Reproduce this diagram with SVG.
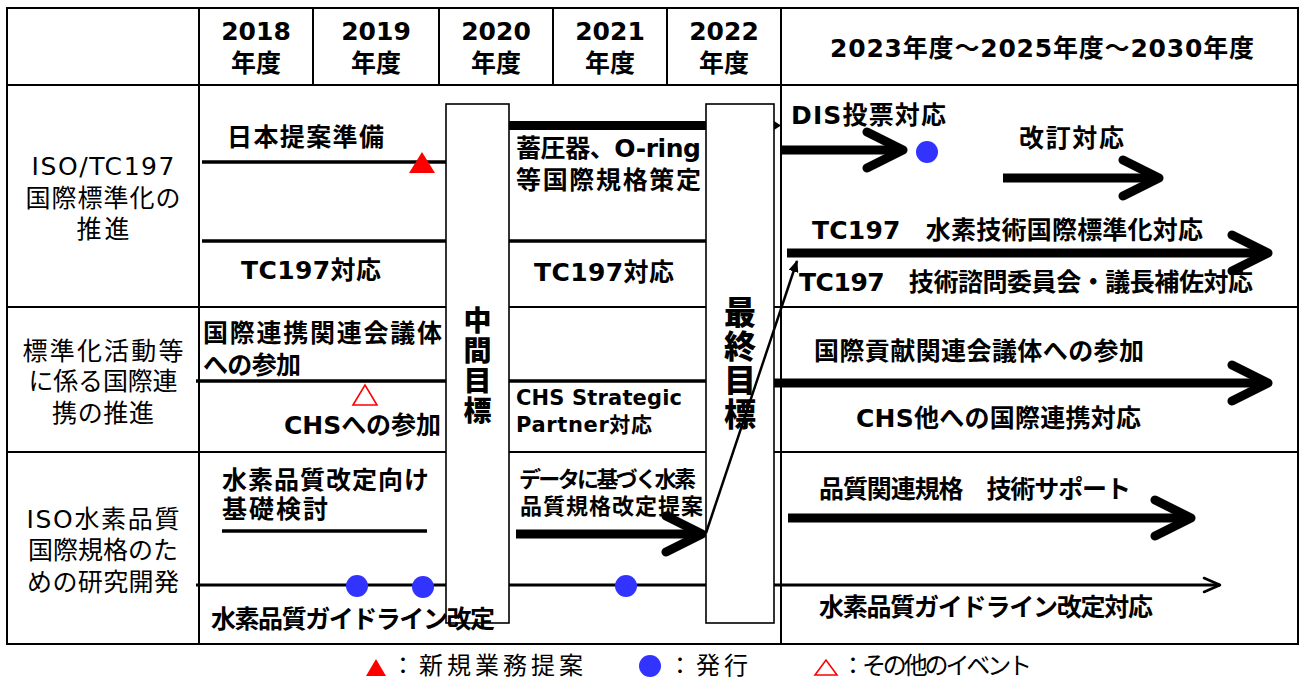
<svg xmlns="http://www.w3.org/2000/svg" width="1301" height="682" viewBox="0 0 1301 682">
<style>
.b{font-family:"DejaVu Sans","Noto Sans CJK JP",sans-serif;font-weight:bold;font-size:25px;fill:#000}
.s{font-size:21px}
.s22{font-size:22px}
.r{font-family:"DejaVu Sans","Noto Sans CJK JP",sans-serif;font-weight:normal;font-size:25px;fill:#000}
.lg{font-family:"Noto Sans CJK JP",sans-serif;font-weight:normal;font-size:24px;fill:#000}
.m{text-anchor:middle}
.grid{stroke:#000;stroke-width:2;fill:none}
.ln{stroke:#000;stroke-width:3.5;fill:none}
.thick{stroke:#000;stroke-width:9;fill:none}
.arrow{stroke:#000;stroke-width:9;fill:none;marker-end:url(#chev)}
.thin{stroke:#000;stroke-width:3;fill:none;marker-end:url(#chevThin)}
.box{fill:#fff;stroke:#000;stroke-width:1.6}
.pub{fill:#3333FF}
.new{fill:#FF0000}
.evt{fill:#fff;stroke:#FF0000;stroke-width:1.6}
.vt{font-family:"Noto Sans CJK JP",sans-serif;font-weight:900;fill:#000;writing-mode:vertical-rl;text-orientation:upright;letter-spacing:2px}
</style>
<defs>
<marker id="chev" viewBox="0 0 48 48" markerWidth="48" markerHeight="48" refX="42" refY="24" markerUnits="userSpaceOnUse" orient="auto">
<path d="M6,6 L42,24 L6,42" fill="none" stroke="#000" stroke-width="9" stroke-linecap="round" stroke-linejoin="round"/>
</marker>
<marker id="chevThin" viewBox="0 0 20 18" markerWidth="20" markerHeight="18" refX="18" refY="9" markerUnits="userSpaceOnUse" orient="auto">
<path d="M2,2 L18,9 L2,16" fill="none" stroke="#000" stroke-width="2.5" stroke-linecap="round" stroke-linejoin="round"/>
</marker>
<marker id="tri" viewBox="0 0 12 10" markerWidth="12" markerHeight="10" refX="11" refY="5" markerUnits="userSpaceOnUse" orient="auto">
<path d="M0,0 L12,5 L0,10 z" fill="#000"/>
</marker>
</defs>
<rect width="1301" height="682" fill="#fff"/>

<g id="grid">
<rect class="grid" x="7" y="8" width="1291" height="636"/>
<line class="grid" x1="7" y1="85" x2="1298" y2="85"/>
<line class="grid" x1="7" y1="307" x2="1298" y2="307"/>
<line class="grid" x1="7" y1="452" x2="1298" y2="452"/>
<line class="grid" x1="199" y1="8" x2="199" y2="644"/>
<line class="grid" x1="781" y1="8" x2="781" y2="644"/>
<line class="grid" x1="313" y1="8" x2="313" y2="85"/>
<line class="grid" x1="439" y1="8" x2="439" y2="85"/>
<line class="grid" x1="553" y1="8" x2="553" y2="85"/>
<line class="grid" x1="667" y1="8" x2="667" y2="85"/>
</g>

<g id="header">
<g id="h2018"><text class="b m" x="256" y="40">2018</text><text class="b m" x="256" y="72">年度</text></g>
<g id="h2019"><text class="b m" x="376" y="40">2019</text><text class="b m" x="376" y="72">年度</text></g>
<g id="h2020"><text class="b m" x="496" y="40">2020</text><text class="b m" x="496" y="72">年度</text></g>
<g id="h2021"><text class="b m" x="610" y="40">2021</text><text class="b m" x="610" y="72">年度</text></g>
<g id="h2022"><text class="b m" x="724" y="40">2022</text><text class="b m" x="724" y="72">年度</text></g>
<g id="h2023"><text class="b m" x="1042" y="57" textLength="424" lengthAdjust="spacing">2023年度～2025年度～2030年度</text></g>
</g>

<g id="rowlabels">
<g id="row1-label">
<text class="r m" x="103" y="175" textLength="143" lengthAdjust="spacing">ISO/TC197</text>
<text class="r m" x="103" y="207" textLength="155" lengthAdjust="spacing">国際標準化の</text>
<text class="r m" x="103" y="238" textLength="53" lengthAdjust="spacing">推進</text>
</g>
<g id="row2-label">
<text class="r m" x="103" y="360" textLength="161" lengthAdjust="spacing">標準化活動等</text>
<text class="r m" x="103" y="390" textLength="149" lengthAdjust="spacing">に係る国際連</text>
<text class="r m" x="103" y="422" textLength="102" lengthAdjust="spacing">携の推進</text>
</g>
<g id="row3-label">
<text class="r m" x="103" y="528" textLength="153" lengthAdjust="spacing">ISO水素品質</text>
<text class="r m" x="103" y="559" textLength="150" lengthAdjust="spacing">国際規格のた</text>
<text class="r m" x="103" y="591" textLength="152" lengthAdjust="spacing">めの研究開発</text>
</g>
</g>

<g id="connectors">
<line class="ln" x1="202" y1="162" x2="446" y2="162"/>
<line class="ln" x1="202" y1="241" x2="446" y2="241"/>
<line class="ln" x1="509" y1="241" x2="706" y2="241"/>
<line class="ln" x1="196" y1="381" x2="446" y2="381"/>
<line class="ln" x1="509" y1="381" x2="706" y2="381"/>
<line class="ln" x1="222" y1="531" x2="427" y2="531" stroke-width="4"/>
<line class="thick" x1="509" y1="125.5" x2="706" y2="125.5" stroke-width="7"/>
<polygon points="774,121 781,125.5 774,130" fill="#000"/>
<line class="thin" x1="196" y1="585" x2="1220" y2="585"/>
<line class="arrow" x1="781" y1="150" x2="903" y2="150"/>
<line class="arrow" x1="1003" y1="178" x2="1159" y2="178"/>
<line class="arrow" x1="787" y1="253" x2="1268" y2="253"/>
<line class="arrow" x1="774" y1="383" x2="1268" y2="383"/>
<line class="arrow" x1="788" y1="518" x2="1191" y2="518"/>
<line class="arrow" x1="516" y1="534" x2="702" y2="534"/>
</g>

<g id="mid-goal">
<rect class="box" x="446" y="104" width="63" height="519"/>
<text class="vt" font-size="28" x="477.5" y="306">中間目標</text>
</g>
<g id="final-goal">
<rect class="box" x="706" y="104" width="68" height="519"/>
<text class="vt" font-size="32" x="740" y="296">最終目標</text>
</g>

<g id="diagonal">
<line x1="706" y1="533" x2="797" y2="261" stroke="#000" stroke-width="2.5" marker-end="url(#tri)"/>
</g>

<g id="row1-items">
<g id="n-japan-prep"><text class="b" x="227" y="146" textLength="157" lengthAdjust="spacing">日本提案準備</text></g>
<g id="n-tc197-a"><text class="b" x="241" y="279" textLength="140" lengthAdjust="spacing">TC197対応</text></g>
<g id="n-accum"><text class="b" x="516" y="157" textLength="185" lengthAdjust="spacing">蓄圧器、O-ring</text><text class="b" x="516" y="189" textLength="185" lengthAdjust="spacing">等国際規格策定</text></g>
<g id="n-tc197-b"><text class="b" x="534" y="281" textLength="140" lengthAdjust="spacing">TC197対応</text></g>
<g id="n-dis"><text class="b" x="791" y="124" textLength="155" lengthAdjust="spacing">DIS投票対応</text></g>
<g id="n-rev"><text class="b" x="1019" y="147" textLength="105" lengthAdjust="spacing">改訂対応</text></g>
<g id="n-tc197-h2"><text class="b" x="812" y="239" textLength="391" lengthAdjust="spacing">TC197　水素技術国際標準化対応</text></g>
<g id="n-tc197-adv"><text class="b" x="799" y="291" textLength="454" lengthAdjust="spacing">TC197　技術諮問委員会・議長補佐対応</text></g>
</g>

<g id="row2-items">
<g id="n-intl"><text class="b" x="203" y="342" textLength="239" lengthAdjust="spacing">国際連携関連会議体</text><text class="b" x="203" y="374" textLength="98" lengthAdjust="spacing">への参加</text></g>
<g id="n-chs"><text class="b" x="284" y="434" textLength="157" lengthAdjust="spacing">CHSへの参加</text></g>
<g id="n-chs-sp"><text class="b s" x="516" y="405" textLength="166" lengthAdjust="spacing">CHS Strategic</text><text class="b s" x="516" y="432" textLength="136" lengthAdjust="spacing">Partner対応</text></g>
<g id="n-contrib"><text class="b" x="814" y="360" textLength="330" lengthAdjust="spacing">国際貢献関連会議体への参加</text></g>
<g id="n-chs-other"><text class="b" x="856" y="427" textLength="285" lengthAdjust="spacing">CHS他への国際連携対応</text></g>
</g>

<g id="row3-items">
<g id="n-basic"><text class="b" x="222" y="489" textLength="207" lengthAdjust="spacing">水素品質改定向け</text><text class="b" x="222" y="518" textLength="106" lengthAdjust="spacing">基礎検討</text></g>
<g id="n-guideline"><text class="b" x="211" y="628" textLength="284" lengthAdjust="spacing">水素品質ガイドライン改定</text></g>
<g id="n-data"><text class="b s22" x="519" y="487" textLength="177" lengthAdjust="spacing">データに基づく水素</text><text class="b s22" x="520" y="514" textLength="183" lengthAdjust="spacing">品質規格改定提案</text></g>
<g id="n-support"><text class="b" x="819" y="498" textLength="312" lengthAdjust="spacing">品質関連規格　技術サポート</text></g>
<g id="n-guideline2"><text class="b" x="819" y="616" textLength="334" lengthAdjust="spacing">水素品質ガイドライン改定対応</text></g>
</g>

<g id="events">
<polygon class="new" points="409,173 422,152 435,173"/>
<polygon class="evt" points="353,405 365,385 377,405"/>
<circle class="pub" cx="927" cy="152" r="11"/>
<circle class="pub" cx="357" cy="586" r="11"/>
<circle class="pub" cx="423" cy="587" r="11"/>
<circle class="pub" cx="626" cy="586" r="11"/>
</g>

<g id="legend">
<polygon class="new" points="366,676 376,659 386,676"/>
<text class="lg" x="391" y="674" textLength="192" lengthAdjust="spacing">：新規業務提案</text>
<circle class="pub" cx="650" cy="666" r="11"/>
<text class="lg" x="668" y="674" textLength="80" lengthAdjust="spacing">：発行</text>
<polygon class="evt" points="815,675 826,660 837,675"/>
<text class="lg" font-size="22" x="841" y="674" textLength="191" lengthAdjust="spacing">：その他のイベント</text>
</g>
</svg>
